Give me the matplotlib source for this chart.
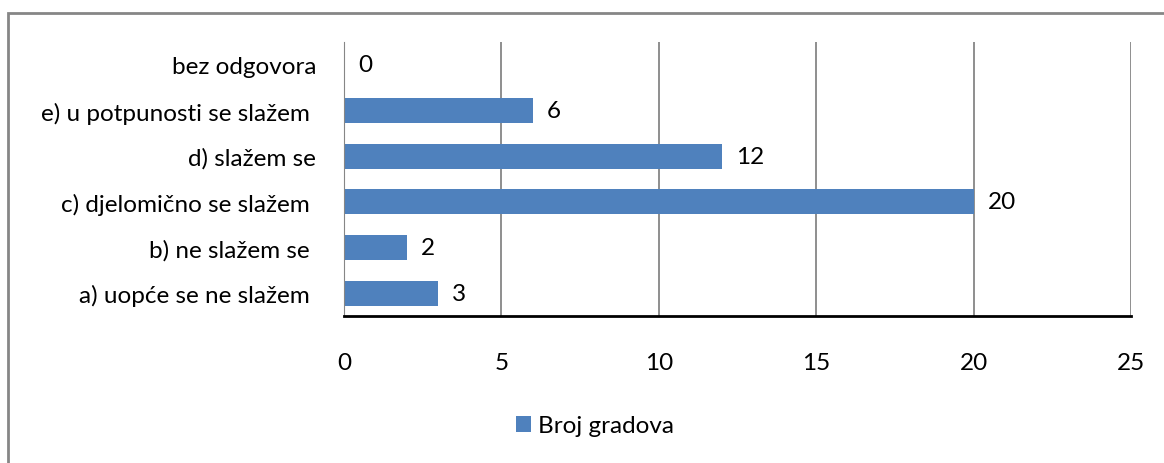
import matplotlib.pyplot as plt
from matplotlib.patches import Rectangle

# some labels carry a trailing space, as in the source sheet
categories = ['a) uopće se ne slažem ', 'b) ne slažem se ', 'c) djelomično se slažem ',
              'd) slažem se', 'e) u potpunosti se slažem ', 'bez odgovora']
values = [3, 2, 20, 12, 6, 0]
series_name = 'Broj gradova'

plt.rcParams['font.family'] = ['Lato', 'DejaVu Sans']
FS = 17.5

fig = plt.figure(figsize=(11.64, 4.64), dpi=100)
W, H = 1164, 464

# outer chart border
fig.patches.append(Rectangle((8 / W, -0.1), 1.2, 1.1 - 14 / H, transform=fig.transFigure,
                             fill=False, edgecolor='#868686', linewidth=2))

ax = fig.add_axes([344 / W, 1 - 317 / H, (1131 - 344) / W, (317 - 43) / H])
bars = ax.barh(range(len(categories)), values, height=0.55, color='#4F81BD', label=series_name)
ax.set_xlim(0, 25)
ax.set_ylim(-0.5, len(categories) - 0.5)
ax.set_xticks(range(0, 26, 5))
ax.set_yticks(range(len(categories)))
ax.set_yticklabels(categories)
ax.grid(axis='x', color='#868686', linewidth=1.3)
ax.set_axisbelow(True)
for s in ['top', 'right']:
    ax.spines[s].set_visible(False)
ax.spines['left'].set_color('#868686')
ax.spines['bottom'].set_color('black')
ax.spines['bottom'].set_linewidth(2)
ax.tick_params(axis='x', length=0, pad=26, labelsize=FS)
ax.tick_params(axis='y', length=0, pad=20, labelsize=FS)

for b, v in zip(bars, values):
    ax.annotate(str(v), (b.get_width(), b.get_y() + b.get_height() / 2),
                xytext=(10, 0), textcoords='offset points', va='center', fontsize=FS)

fig.legend(handles=[bars], labels=[series_name], loc='center', bbox_to_anchor=(595 / W, 1 - 427 / H),
           frameon=False, fontsize=FS, handlelength=0.6, handleheight=0.6, handletextpad=0.3)

fig.savefig('out.png', dpi=100)
